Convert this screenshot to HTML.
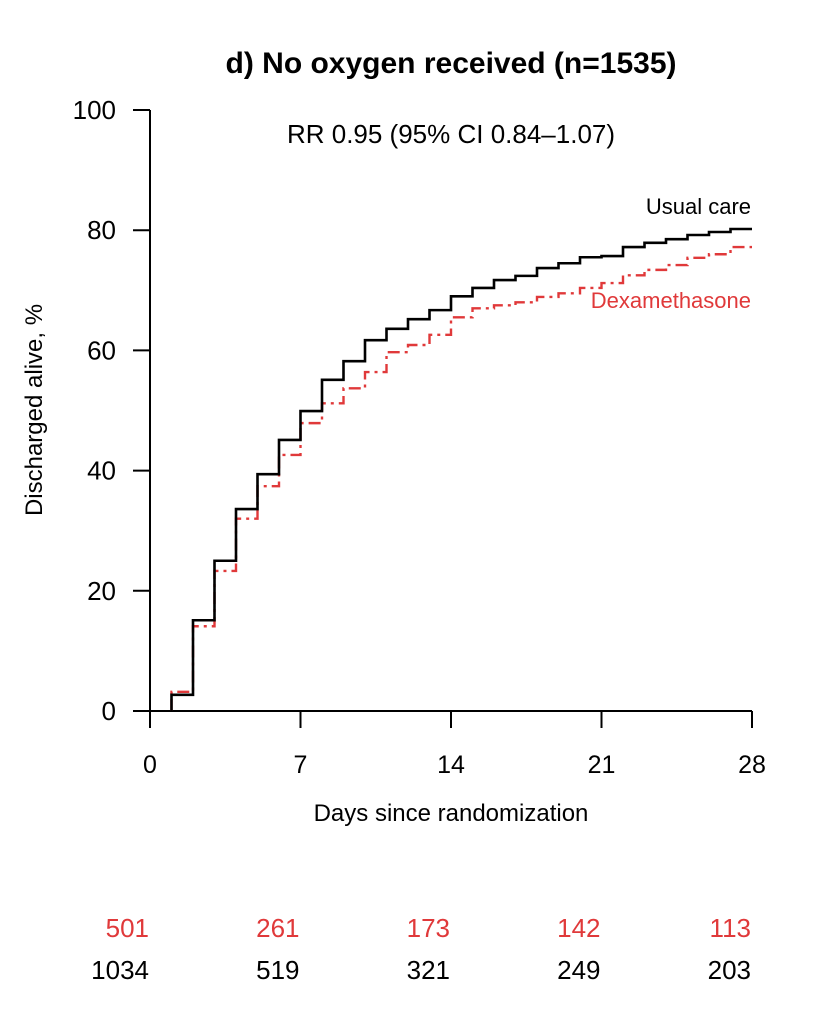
<!DOCTYPE html>
<html><head><meta charset="utf-8"><style>
html,body{margin:0;padding:0;background:#fff;}
svg{display:block;font-family:"Liberation Sans",Arial,sans-serif;}
</style></head><body>
<svg id="chart" width="816" height="1027" viewBox="0 0 816 1027">
<text x="451" y="73" font-size="30" font-weight="bold" text-anchor="middle">d) No oxygen received (n=1535)</text>
<text x="451" y="143" font-size="26" text-anchor="middle">RR 0.95 (95% CI 0.84–1.07)</text>
<text transform="translate(42,410) rotate(-90)" font-size="24" text-anchor="middle">Discharged alive, %</text>
<text x="451" y="821" font-size="24" text-anchor="middle">Days since randomization</text>
<text x="751" y="214" font-size="22" text-anchor="end">Usual care</text>
<text x="751" y="308" font-size="22" text-anchor="end" fill="#e0393a">Dexamethasone</text>
<g id="axes"></g>
<g id="series"></g>
<g id="risk"></g>
</svg>
<script>
const days = [1,2,3,4,5,6,7,8,9,10,11,12,13,14,15,16,17,18,19,20,21,22,23,24,25,26,27,28];
const usualCare = [2.7,15.1,25.0,33.6,39.4,45.1,49.9,55.1,58.2,61.7,63.6,65.2,66.7,69.0,70.4,71.7,72.4,73.7,74.5,75.5,75.7,77.2,77.9,78.5,79.2,79.7,80.2,80.2];
const dexamethasone = [3.2,14.1,23.3,32.0,37.4,42.6,47.9,51.2,53.7,56.4,59.7,60.9,62.6,65.5,67.0,67.5,68.0,68.9,69.5,70.4,71.2,72.5,73.4,74.2,75.4,76.0,77.2,77.2];
const xTicks = [0,7,14,21,28];
const yTicks = [0,20,40,60,80,100];
const riskDexa = [501,261,173,142,113];
const riskUsual = [1034,519,321,249,203];

const X0=150,X1=752,Y0=711,Y1=110;
function xs(d){return X0+(d/28)*(X1-X0);}
function ys(v){return Y0-(v/100)*(Y0-Y1);}
const NS="http://www.w3.org/2000/svg";
function mk(tag,attrs,parent,txt){const e=document.createElementNS(NS,tag);for(const k in attrs)e.setAttribute(k,attrs[k]);if(txt!==undefined)e.textContent=txt;parent.appendChild(e);return e;}
const axes=document.getElementById('axes');
let e=mk('line',{x1:X0,y1:Y1,x2:X0,y2:Y0,stroke:'#000','stroke-width':2},axes);


e=mk('line',{x1:X0,y1:Y0,x2:X1,y2:Y0,stroke:'#000','stroke-width':2},axes);


yTicks.forEach(v=>{
  mk('line',{x1:X0-17,y1:ys(v),x2:X0,y2:ys(v),stroke:'#000','stroke-width':2},axes);
  const t=mk('text',{x:116,y:ys(v)+9,'font-size':26,'text-anchor':'end'},axes,String(v));
  
  
});
xTicks.forEach(d=>{
  mk('line',{x1:xs(d),y1:Y0,x2:xs(d),y2:Y0+17,stroke:'#000','stroke-width':2},axes);
  const t=mk('text',{x:xs(d),y:Y0+62,'font-size':25,'text-anchor':'middle'},axes,String(d));
  
  
});
function stepPath(vals){
  let p='M'+xs(days[0])+','+ys(0)+' V'+ys(vals[0]);
  for(let i=1;i<days.length;i++){p+=' H'+xs(days[i])+' V'+ys(vals[i]);}
  return p;
}
const series=document.getElementById('series');
e=mk('path',{d:stepPath(dexamethasone),fill:'none',stroke:'#e0393a','stroke-width':2.4,'stroke-dasharray':'12,5,3,5'},series);


e=mk('path',{d:stepPath(usualCare),fill:'none',stroke:'#000','stroke-width':2.6},series);


const risk=document.getElementById('risk');
xTicks.forEach((d,i)=>{
  let t=mk('text',{x:xs(d)-1,y:937,'font-size':26,'text-anchor':'end',fill:'#e0393a'},risk,String(riskDexa[i]));
  
  
  t=mk('text',{x:xs(d)-1,y:979,'font-size':26,'text-anchor':'end'},risk,String(riskUsual[i]));
  
  
});
</script>
</body></html>
